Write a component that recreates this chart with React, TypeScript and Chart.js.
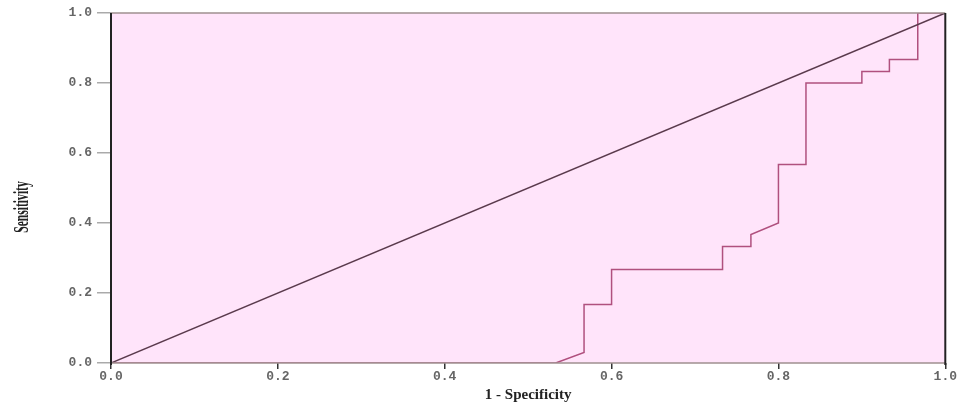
import React, { useEffect, useRef } from "react";
import { Chart, registerables } from "chart.js";

Chart.register(...registerables);

const rocX = [0, 0.533, 0.567, 0.567, 0.6, 0.6, 0.733, 0.733, 0.767, 0.767, 0.8, 0.8, 0.833, 0.833, 0.9, 0.9, 0.933, 0.933, 0.967, 0.967, 1];
const rocY = [0, 0, 0.03, 0.167, 0.167, 0.267, 0.267, 0.333, 0.333, 0.367, 0.4, 0.567, 0.567, 0.8, 0.8, 0.833, 0.833, 0.867, 0.867, 1, 1];
const refX = [0, 1];
const refY = [0, 1];
const tickValues = [0, 0.2, 0.4, 0.6, 0.8, 1.0];
const xTitle = "1 - Specificity";
const yTitle = "Sensitivity";

const bgPlugin = {
  id: "bgPlugin",
  beforeDraw(chart: any) {
    const { ctx, chartArea: a } = chart;
    ctx.save();
    ctx.fillStyle = "#ffe4fa";
    ctx.fillRect(a.left, a.top, a.right - a.left, a.bottom - a.top);
    ctx.restore();
  },
  afterDraw(chart: any) {
    const { ctx, chartArea: a } = chart;
    ctx.save();
    ctx.lineWidth = 1.5;
    ctx.strokeStyle = "#a09090";
    ctx.beginPath();
    ctx.moveTo(a.left, a.top);
    ctx.lineTo(a.right, a.top);
    ctx.moveTo(a.left, a.bottom);
    ctx.lineTo(a.right, a.bottom);
    ctx.stroke();
    ctx.strokeStyle = "#222";
    ctx.lineWidth = 2;
    ctx.beginPath();
    ctx.moveTo(a.left, a.top);
    ctx.lineTo(a.left, a.bottom + 2);
    ctx.moveTo(a.right, a.top);
    ctx.lineTo(a.right, a.bottom + 2);
    ctx.stroke();
    // y title, condensed
    ctx.translate(23, 207);
    ctx.rotate(-Math.PI / 2);
    ctx.scale(0.58, 1);
    ctx.fillStyle = "#222";
    ctx.font = "bold 20px 'Liberation Serif'";
    ctx.textAlign = "center";
    ctx.textBaseline = "middle";
    ctx.fillText(yTitle, 0, 0);
    ctx.restore();
  },
};

export default function App() {
  const ref = useRef<HTMLCanvasElement>(null);
  useEffect(() => {
    document.body.style.margin = "0";
    const chart = new Chart(ref.current!, {
      type: "scatter",
      data: {
        datasets: [
          {
            data: refX.map((x, i) => ({ x, y: refY[i] })),
            showLine: true,
            borderColor: "#5a3a4c",
            borderWidth: 1.5,
            pointRadius: 0,
          },
          {
            data: rocX.map((x, i) => ({ x, y: rocY[i] })),
            showLine: true,
            borderColor: "#b0507e",
            borderWidth: 1.5,
            pointRadius: 0,
          },
        ],
      },
      options: {
        animation: false,
        responsive: false,
        layout: { padding: { left: 0, right: 11, top: 13, bottom: 0 } },
        plugins: { legend: { display: false }, tooltip: { enabled: false } },
        scales: {
          x: {
            type: "linear",
            min: 0,
            max: 1,
            afterBuildTicks: (s: any) => {
              s.ticks = tickValues.map((v) => ({ value: v }));
            },
            afterFit: (s: any) => {
              s.height = 41;
            },
            grid: { drawOnChartArea: false, color: "#333", tickLength: 6, lineWidth: 1.5 },
            border: { display: false },
            ticks: {
              color: "#666",
              font: { family: "'Liberation Mono'", size: 13, weight: "bold" },
              padding: 0,
              maxRotation: 0,
              callback: (v: any) => Number(v).toFixed(1),
            },
            title: {
              display: true,
              text: xTitle,
              color: "#222",
              font: { family: "'Liberation Serif'", size: 15, weight: "bold" },
              padding: { top: 0, bottom: 0 },
            },
          },
          y: {
            type: "linear",
            min: 0,
            max: 1,
            afterBuildTicks: (s: any) => {
              s.ticks = tickValues.map((v) => ({ value: v }));
            },
            afterFit: (s: any) => {
              s.width = 111;
            },
            grid: { drawOnChartArea: false, color: "#aaa", tickLength: 14, lineWidth: 1.5 },
            border: { display: false },
            ticks: {
              color: "#666",
              font: { family: "'Liberation Mono'", size: 13, weight: "bold" },
              padding: 5,
              callback: (v: any) => Number(v).toFixed(1),
            },
          },
        },
      },
      plugins: [bgPlugin],
    } as any);
    return () => chart.destroy();
  }, []);
  return (
    <div style={{ width: 957, height: 404, background: "#fff" }}>
      <canvas ref={ref} width={957} height={404} style={{ display: "block" }} />
    </div>
  );
}
